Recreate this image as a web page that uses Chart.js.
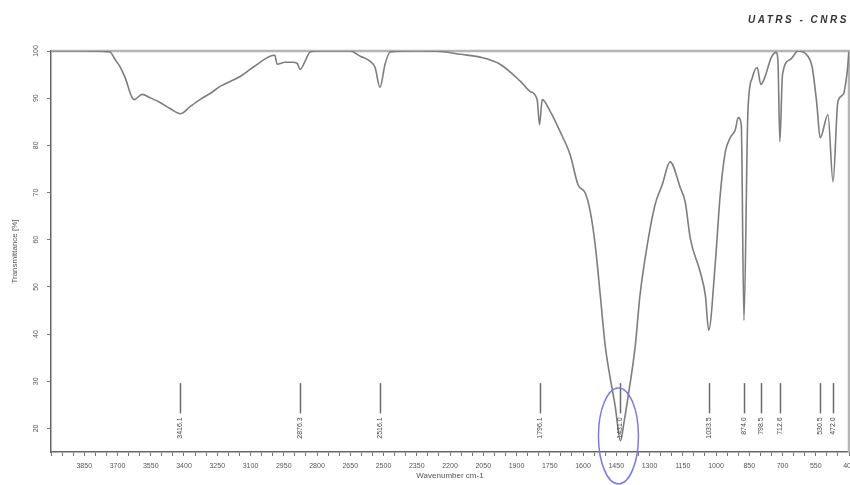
<!DOCTYPE html>
<html>
<head>
<meta charset="utf-8">
<title>FTIR spectrum</title>
<script src="https://cdn.jsdelivr.net/npm/chart.js@4.4.0/dist/chart.umd.min.js"></script>
<style>
    html, body { margin: 0; padding: 0; background: #fff; }
    canvas { display: block; }
</style>
</head>
<body>
<canvas id="irChart" width="850" height="485"></canvas>
<script>
/**
 * FTIR transmittance spectrum (UATRS - CNRS)
 */

// Spectrum (wavenumber in cm-1, transmittance in %)
const wavenumbers = [
    4000, 3870, 3735, 3711, 3689, 3666, 3634, 3625, 3589, 3553,
    3508, 3463, 3416, 3373, 3328, 3282, 3237, 3147, 3102, 3057,
    3012, 2990, 2980, 2944, 2912, 2890, 2876, 2854, 2831, 2786,
    2651, 2605, 2560, 2538, 2516, 2493, 2470, 2348, 2244, 2154,
    2064, 1974, 1883, 1838, 1807, 1796, 1784, 1748, 1703, 1658,
    1622, 1590, 1567, 1545, 1522, 1500, 1477, 1455, 1431, 1414,
    1396, 1364, 1343, 1310, 1275, 1243, 1207, 1161, 1139, 1116,
    1071, 1048, 1033, 1003, 981, 958, 936, 913, 900, 886,
    874, 856, 836, 814, 798, 780, 750, 728, 720, 712,
    700, 665, 629, 593, 566, 545, 530, 495, 472, 450,
    426, 408, 400
];
const transmittance = [
    100, 100, 99.8, 98.2, 96.7, 94.4, 90.1, 89.7, 90.8, 90.1,
    89.1, 87.8, 86.7, 88.2, 89.7, 91.0, 92.5, 94.6, 96.1, 97.6,
    98.9, 99.1, 97.2, 97.6, 97.6, 97.4, 96.1, 97.8, 99.8, 100,
    100, 98.9, 97.8, 96.5, 92.3, 97.2, 99.8, 100, 99.9, 99.3,
    98.7, 97.2, 93.6, 91.4, 89.7, 84.4, 89.7, 87.2, 82.9, 78.0,
    71.6, 69.9, 65.9, 58.9, 48.2, 37.6, 30.6, 24.8, 17.4, 21.6,
    26.9, 37.6, 48.2, 58.9, 67.4, 71.6, 76.5, 71.0, 68.0, 60.3,
    53.1, 48.2, 40.8, 55.2, 69.5, 78.6, 81.6, 83.3, 85.9, 84.4,
    42.9, 87.2, 94.4, 96.5, 92.9, 94.4, 98.7, 99.7, 97.2, 80.8,
    95.0, 98.2, 100, 99.3, 96.5, 88.7, 81.6, 86.5, 72.3, 89.3,
    90.8, 95.7, 99.9
];

// Picked peaks
const peakPositions = [3416.1, 2876.3, 2516.1, 1796.1, 1431.0, 1033.5, 874.0, 798.5, 712.6, 530.5, 472.0];
const peakLabels = ['3416.1', '2876.3', '2516.1', '1796.1', '1431.0', '1033.5', '874.0', '798.5', '712.6', '530.5', '472.0'];

// Axis ticks
const xTickLabels = [3850, 3700, 3550, 3400, 3250, 3100, 2950, 2800, 2650, 2500, 2350, 2200,
    2050, 1900, 1750, 1600, 1450, 1300, 1150, 1000, 850, 700, 550, 400];
const xMinorStep = 50;
const yTickLabels = [20, 30, 40, 50, 60, 70, 80, 90, 100];

// Highlighted peak (blue ring)
const ringCenter = { x: 1440, y: 18.4 };

const FONT = '"Liberation Sans", Arial, sans-serif';
const TEXT_GREY = '#555';

/**
 * Extra drawing: frame, rotated tick labels, peak marks and the ring
 */
const spectrumOverlay = {
    id: 'spectrumOverlay',
    beforeDatasetsDraw(chart) {
        const { ctx, chartArea: a } = chart;
        ctx.save();
        ctx.strokeStyle = '#b5b5b5';
        ctx.lineWidth = 2.5;
        ctx.beginPath();
        ctx.moveTo(a.left, a.top);
        ctx.lineTo(a.right, a.top);
        ctx.lineTo(a.right, a.bottom);
        ctx.stroke();
        ctx.restore();
    },
    afterDraw(chart) {
        const { ctx, chartArea: a, scales } = chart;
        const xs = scales.x;
        const ys = scales.y;

        ctx.save();

        // y tick labels, turned on their side
        ctx.fillStyle = TEXT_GREY;
        ctx.font = '7px ' + FONT;
        ctx.textAlign = 'center';
        ctx.textBaseline = 'middle';
        yTickLabels.forEach(v => {
            ctx.save();
            ctx.translate(a.left - 15, ys.getPixelForValue(v));
            ctx.rotate(-Math.PI / 2);
            ctx.fillText(String(v), 0, 0);
            ctx.restore();
        });

        // peak markers
        ctx.strokeStyle = '#6a6a6a';
        ctx.lineWidth = 1.5;
        peakPositions.forEach((p, i) => {
            const px = Math.round(xs.getPixelForValue(p)) + 0.5;
            const top = ys.getPixelForValue(29.6);
            const bottom = ys.getPixelForValue(23.2);
            ctx.beginPath();
            ctx.moveTo(px, top);
            ctx.lineTo(px, bottom);
            ctx.stroke();

            ctx.save();
            ctx.translate(px, bottom + 4);
            ctx.rotate(-Math.PI / 2);
            ctx.textAlign = 'right';
            ctx.textBaseline = 'middle';
            ctx.fillStyle = '#444';
            ctx.font = '7px ' + FONT;
            ctx.fillText(peakLabels[i], 0, 0);
            ctx.restore();
        });

        // blue ring round the main band
        ctx.strokeStyle = '#7b7be6';
        ctx.lineWidth = 1.5;
        ctx.beginPath();
        ctx.ellipse(xs.getPixelForValue(ringCenter.x), ys.getPixelForValue(ringCenter.y), 20, 48, 0, 0, Math.PI * 2);
        ctx.stroke();

        // lab stamp, top right (runs off the edge like the original)
        ctx.fillStyle = '#333';
        ctx.font = 'italic bold 10px ' + FONT;
        ctx.letterSpacing = '2.5px';
        ctx.textAlign = 'left';
        ctx.textBaseline = 'middle';
        ctx.fillText('UATRS - CNRS', 748, 20);

        ctx.restore();
    }
};

function initSpectrumChart() {
    const canvas = document.getElementById('irChart');
    if (!canvas) {
        console.error('Chart canvas not found');
        return;
    }

    const points = wavenumbers.map((w, i) => ({ x: w, y: transmittance[i] }));

    new Chart(canvas.getContext('2d'), {
        type: 'line',
        data: {
            datasets: [{
                label: 'Transmittance',
                data: points,
                borderColor: '#7d7d7d',
                borderWidth: 1.6,
                pointRadius: 0,
                fill: false,
                cubicInterpolationMode: 'monotone'
            }]
        },
        options: {
            responsive: false,
            devicePixelRatio: 1,
            animation: false,
            layout: {
                padding: { top: 51, right: 1, left: 0, bottom: 0 }
            },
            plugins: {
                legend: { display: false },
                title: { display: false },
                tooltip: { enabled: false }
            },
            scales: {
                x: {
                    type: 'linear',
                    reverse: true,
                    min: 400,
                    max: 4000,
                    afterBuildTicks: scale => {
                        const ticks = [];
                        for (let v = 400; v <= 4000; v += xMinorStep) {
                            ticks.push({ value: v });
                        }
                        scale.ticks = ticks;
                    },
                    afterFit: scale => {
                        scale.height = 33;
                        scale.paddingLeft = 0;
                        scale.paddingRight = 0;
                    },
                    ticks: {
                        autoSkip: false,
                        maxRotation: 0,
                        minRotation: 0,
                        padding: 6,
                        color: TEXT_GREY,
                        font: { family: FONT, size: 7 },
                        callback: value => xTickLabels.includes(value) ? String(value) : ''
                    },
                    grid: {
                        drawOnChartArea: false,
                        drawTicks: true,
                        tickLength: 4,
                        color: '#777',
                        lineWidth: 1
                    },
                    border: { display: true, color: '#666', width: 1.5 },
                    title: {
                        display: true,
                        text: 'Wavenumber cm-1',
                        color: TEXT_GREY,
                        font: { family: FONT, size: 8 },
                        padding: { top: 0, bottom: 4 }
                    }
                },
                y: {
                    min: 15,
                    max: 100,
                    afterBuildTicks: scale => {
                        scale.ticks = yTickLabels.map(v => ({ value: v }));
                    },
                    afterFit: scale => {
                        scale.width = 51;
                    },
                    ticks: {
                        color: 'rgba(0,0,0,0)',
                        font: { family: FONT, size: 7 }
                    },
                    grid: {
                        drawOnChartArea: false,
                        drawTicks: true,
                        tickLength: 4,
                        color: '#777',
                        lineWidth: 1
                    },
                    border: { display: true, color: '#666', width: 1.5 },
                    title: {
                        display: true,
                        text: 'Transmittance [%]',
                        color: TEXT_GREY,
                        font: { family: FONT, size: 8 },
                        padding: { top: 10, bottom: 0 }
                    }
                }
            }
        },
        plugins: [spectrumOverlay]
    });
}

document.addEventListener('DOMContentLoaded', function() {
    if (typeof Chart === 'undefined') {
        console.error('Chart.js is not loaded');
        return;
    }
    initSpectrumChart();
});
</script>
</body>
</html>
